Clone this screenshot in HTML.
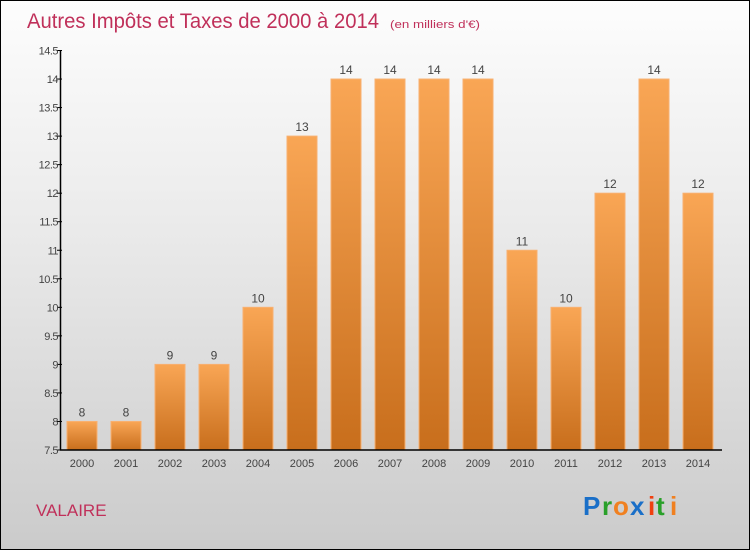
<!DOCTYPE html>
<html><head><meta charset="utf-8"><style>
body{margin:0;width:750px;height:550px;overflow:hidden;font-family:"Liberation Sans",sans-serif}
#wrap{position:absolute;left:0;top:0;width:748px;height:548px;border:1px solid #000;background:linear-gradient(#fdfdfd,#ebebeb 40%,#cbcbcb)}
</style></head><body>
<div id="wrap">
<svg width="750" height="550" style="position:absolute;left:-1px;top:-1px" id="svg">
<defs><linearGradient id="bg" x1="0" y1="0" x2="0" y2="1"><stop offset="0" stop-color="#f9a655"/><stop offset="1" stop-color="#c86e1c"/></linearGradient></defs>
<text x="27" y="28" font-size="21" fill="#c0305a" textLength="352" lengthAdjust="spacingAndGlyphs">Autres Impôts et Taxes de 2000 à 2014</text>
<text x="390" y="28" font-size="11" fill="#c0305a" textLength="90" lengthAdjust="spacingAndGlyphs">(en milliers d'€)</text>
<text x="36" y="516" font-size="17" fill="#c0305a">VALAIRE</text>
<g font-size="26" font-weight="bold" font-family="'Liberation Sans',sans-serif">
<text x="583" y="515" fill="#1a6fc8">P</text><text x="602" y="515" fill="#2aa02a">r</text><text x="613" y="515" fill="#f08020">o</text><text x="630" y="515" fill="#1a6fc8">x</text><text x="648" y="515" fill="#f04010">i</text><text x="656" y="515" fill="#2aa02a">t</text><text x="670" y="515" fill="#f08020">i</text>
</g>
<g id="plot"></g>
</svg></div>
<script>
const years=["2000","2001","2002","2003","2004","2005","2006","2007","2008","2009","2010","2011","2012","2013","2014"];
const values=[8,8,9,9,10,13,14,14,14,14,11,10,12,14,12];
const ticks=[7.5,8,8.5,9,9.5,10,10.5,11,11.5,12,12.5,13,13.5,14,14.5];
const NS="http://www.w3.org/2000/svg";
const g=document.getElementById('plot');
const x0=60,x1=720,yb=450,yt=50.5,vmin=7.5,vmax=14.5;
const bw=(x1-x0)/years.length;
function y(v){return yb-(v-vmin)/(vmax-vmin)*(yb-yt);}
function xc(i){return x0+bw*(i+0.5);}
function mk(t,a){const e=document.createElementNS(NS,t);for(const k in a)e.setAttribute(k,a[k]);g.appendChild(e);return e;}
values.forEach((v,i)=>{
 const r=mk('rect',{x:xc(i)-15,y:y(v),width:30,height:yb-y(v),fill:'url(#bg)',stroke:'#f8b070','stroke-width':1});
 
 
 const t=mk('text',{x:xc(i),y:y(v)-5,'text-anchor':'middle','font-size':12,fill:'#444'});
 t.textContent=v;
 
 
 const l=mk('text',{x:xc(i),y:467,'text-anchor':'middle','font-size':11,fill:'#444'});
 l.textContent=years[i];
 
 
});
ticks.forEach(t=>{
 mk('line',{x1:x0-3,x2:x0+2,y1:y(t),y2:y(t),stroke:'#000'});
 const l=mk('text',{x:x0-2,y:y(t)+4,'text-anchor':'end','font-size':11,fill:'#444','letter-spacing':'-0.5'});
 l.textContent=t;
 
 
});
const ya=mk('line',{x1:x0+0.5,x2:x0+0.5,y1:yt,y2:yb,stroke:'#000','stroke-width':1.5});


const xa=mk('line',{x1:x0,x2:x1+2,y1:yb,y2:yb,stroke:'#000','stroke-width':1.5});


</script>
</body></html>
